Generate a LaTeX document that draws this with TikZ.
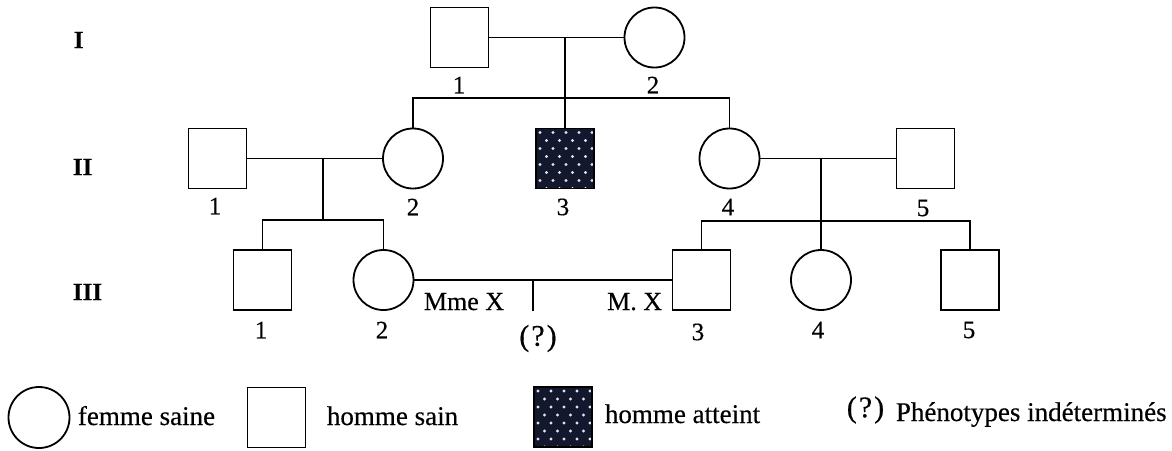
\documentclass[tikz,border=0pt]{standalone}
\usepackage{fontspec}
\setmainfont{Liberation Serif}[FakeBold=0.4]
\usetikzlibrary{calc}
\definecolor{affc}{RGB}{20,24,44}
\begin{document}
\begin{tikzpicture}[x=1pt,y=-1pt,line width=1.8pt,
  sq/.style={draw,rectangle,minimum width=58pt,minimum height=60pt,inner sep=0pt},
  ci/.style={draw,circle,minimum size=60pt,inner sep=0pt},
  aff/.style={sq,fill=affc,path picture={
      \foreach \j in {0,...,7}{\foreach \i in {0,...,4}{
        \fill[white!88!blue] ($(path picture bounding box.north west)+({4+\i*13+mod(\j,2)*6.5},{4+\j*8})$) circle (1.7pt);
      }}}},
  num/.style={font=\fontsize{25}{30}\selectfont,inner sep=0pt},
  gen/.style={font=\fontsize{25}{30}\selectfont\bfseries,inner sep=0pt,anchor=west},
  leg/.style={font=\fontsize{27}{32}\selectfont,inner sep=0pt,anchor=base west},
  lbl/.style={font=\fontsize{26}{31}\selectfont,inner sep=0pt},
  qm/.style={font=\fontsize{30}{34}\selectfont,inner sep=0pt},
]
\useasboundingbox (0,0) rectangle (1172,450);

% generation labels
\node[gen] (gI) at (73,40) {I};
\node[gen] (gII) at (72,167) {II};
\node[gen] (gIII) at (72,292) {III};

% generation I
\node[sq] (I1) at (459.5,37.5) {};
\node[ci] (I2) at (654.5,37.5) {};
\node[num] (nI1) at (459,85) {1};
\node[num] (nI2) at (653,85) {2};

% generation II
\node[sq] (II1) at (217.5,158.5) {};
\node[ci] (II2) at (413,158.5) {};
\node[aff] (II3) at (565,158.5) {};
\node[ci] (II4) at (729.5,158.5) {};
\node[sq] (II5) at (925.5,158.5) {};
\node[num] (nII1) at (215,206) {1};
\node[num] (nII2) at (413,207) {2};
\node[num] (nII3) at (563,207) {3};
\node[num] (nII4) at (728,207) {4};
\node[num] (nII5) at (923,208) {5};

% generation III
\node[sq] (III1) at (262.5,280) {};
\node[ci] (III2) at (383.5,280) {};
\node[sq] (III3) at (701.5,280) {};
\node[ci] (III4) at (821,280) {};
\node[sq] (III5) at (970,280) {};
\node[num] (nIII1) at (261,330) {1};
\node[num] (nIII2) at (382,330) {2};
\node[num] (nIII3) at (698,332) {3};
\node[num] (nIII4) at (818,330) {4};
\node[num] (nIII5) at (969,330) {5};

% junction points
\coordinate (m1) at (565,37.5);
\coordinate (s1) at (565,98);
\coordinate (m2) at (323,158.5);
\coordinate (s2) at (323,220);
\coordinate (m3) at (821,158.5);
\coordinate (s3) at (821,221);
\coordinate (m4) at (533,280);
\coordinate (c4) at (533,311);

% connectors
\draw (I1) -- (I2);
\draw (m1) -- (II3);
\draw (II2.north) |- (s1) -| (II4.north);
\draw (II1) -- (II2);
\draw (m2) -- (s2);
\draw (III1.north) |- (s2) -| (III2.north);
\draw (II4) -- (II5);
\draw (m3) -- (III4);
\draw (III3.north) |- (s3) -| (III5.north);
\draw (III2) -- (III3);
\draw (m4) -- (c4);

\node[lbl,anchor=base west] (mme) at (423,310) {Mme X};
\node[lbl,anchor=base east] (mx) at (663,310) {M. X};
\node[qm] (qc) at (538,338.5) {(\kern2pt?\kern2pt)};

% legend
\node[ci,minimum size=61pt] (Lf) at (39,417.5) {};
\node[leg] (Lft) at (77,425) {femme saine};
\node[sq] (Lh) at (276.5,417.5) {};
\node[leg] (Lht) at (326,425) {homme sain};
\node[aff] (La) at (563,417) {};
\node[leg] (Lat) at (604,423) {homme atteint};
\node[qm] (Lq) at (865.5,410) {(\kern2pt?\kern2pt)};
\node[leg] (Lqt) at (895,421) {Phénotypes indéterminés};
\end{tikzpicture}
\end{document}
